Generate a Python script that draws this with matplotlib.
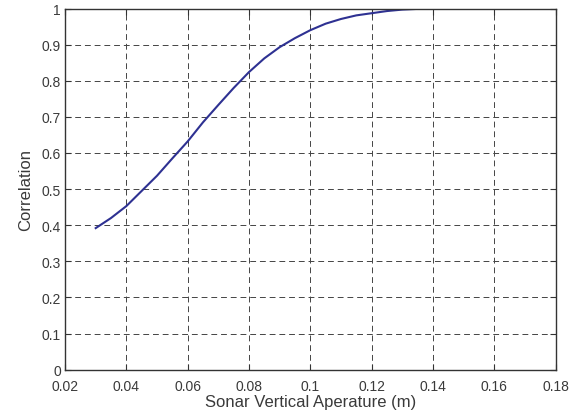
import numpy as np
import matplotlib
matplotlib.use('Agg')
import matplotlib.pyplot as plt

# aperture (m) and correlation
aperture = [0.03, 0.035, 0.04, 0.045, 0.05, 0.055, 0.06, 0.065, 0.07, 0.075,
            0.08, 0.085, 0.09, 0.095, 0.10, 0.105, 0.11, 0.115, 0.12, 0.125,
            0.13, 0.135, 0.14, 0.15, 0.16, 0.17, 0.18]
correlation = [0.392, 0.42, 0.453, 0.495, 0.537, 0.585, 0.632, 0.685, 0.733, 0.78,
               0.824, 0.862, 0.893, 0.918, 0.94, 0.958, 0.971, 0.981, 0.987, 0.993,
               0.997, 0.999, 1.0, 1.0, 1.0, 1.0, 1.0]

xticks = np.arange(0.02, 0.181, 0.02)
yticks = np.arange(0, 1.01, 0.1)
xlabels = ['0.02', '0.04', '0.06', '0.08', '0.1', '0.12', '0.14', '0.16', '0.18']
ylabels = ['0', '0.1', '0.2', '0.3', '0.4', '0.5', '0.6', '0.7', '0.8', '0.9', '1']

plt.rcParams['font.family'] = ['Liberation Sans', 'DejaVu Sans']
txt = '#3a3a3a'

fig = plt.figure(figsize=(5.86, 4.14), dpi=100)
ax = fig.add_axes([0.111, 0.1046, 0.837, 0.8724])

ax.plot(aperture, correlation, color='#2e3192', lw=1.5, solid_joinstyle='round')

ax.set_xlim(0.02, 0.18)
ax.set_ylim(0, 1)
ax.set_xticks(xticks)
ax.set_xticklabels(xlabels)
ax.set_yticks(yticks)
ax.set_yticklabels(ylabels)

ax.grid(True, color='#444444', linestyle=(0, (6, 4)), lw=0.7)
ax.tick_params(direction='in', length=4, width=0.8, top=True, right=True,
               labelsize=10, colors='#333333', labelcolor=txt, pad=3)
ax.tick_params(axis='x', pad=6.5)
for s in ax.spines.values():
    s.set_color('#333333')
    s.set_linewidth(1.0)

ax.set_xlabel('Sonar Vertical Aperature (m)', fontsize=12, color=txt, labelpad=1)
ax.set_ylabel('Correlation', fontsize=12, color=txt, labelpad=6)

fig.savefig('out.png', dpi=100)
